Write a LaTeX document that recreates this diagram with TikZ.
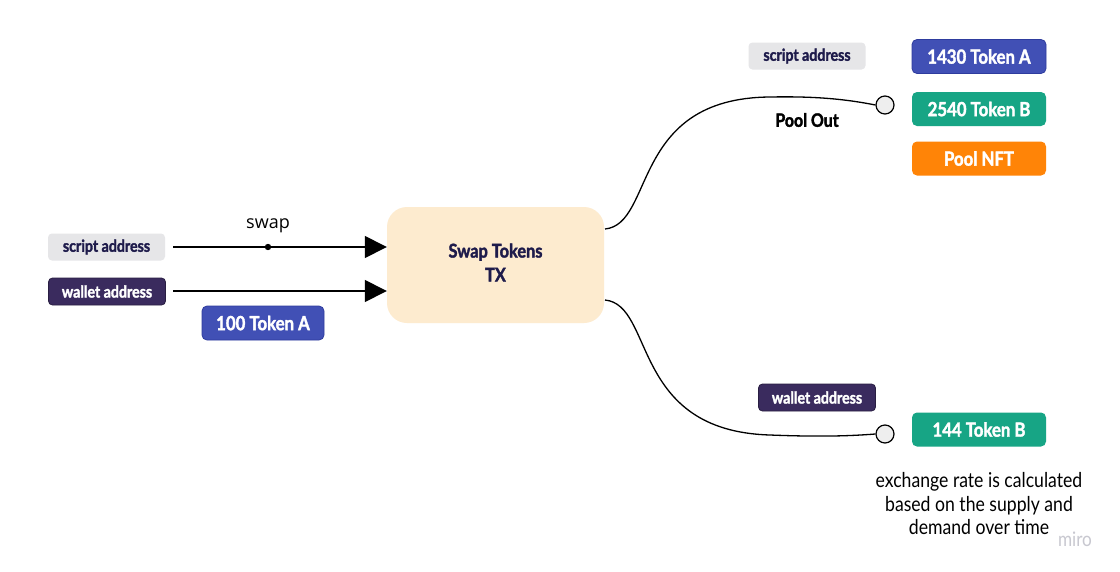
\documentclass[tikz,border=0pt]{standalone}
\usepackage{fontspec}
\setmainfont{Lato}
\newfontfamily\labelfont{Lato}[FakeStretch=0.86, BoldFeatures={FakeBold=1.8}]
\newfontfamily\swapfont{Open Sans}
\usetikzlibrary{arrows.meta}

\definecolor{navy}{HTML}{1E1B4B}
\definecolor{chipgrey}{HTML}{E6E6E8}
\definecolor{walletpurple}{HTML}{3A2B5E}
\definecolor{tokenblue}{HTML}{4150B5}
\definecolor{tokenblueedge}{HTML}{2E3C9E}
\definecolor{tokenteal}{HTML}{17A585}
\definecolor{nftorange}{HTML}{FF8407}
\definecolor{txtan}{HTML}{FDEBCF}
\definecolor{pinfill}{HTML}{EEEEEE}
\definecolor{watermark}{HTML}{C8C8D0}

\tikzset{
  chip/.style={rounded corners=4pt, inner sep=0pt, minimum width=117pt, minimum height=27pt,
    font=\labelfont\bfseries\fontsize{16.5}{19}\selectfont},
  scriptchip/.style={chip, fill=chipgrey, text=navy},
  walletchip/.style={chip, fill=walletpurple, draw=walletpurple!70!black, line width=0.8pt, text=white},
  token/.style={rounded corners=5pt, inner sep=0pt, minimum width=134pt, minimum height=34pt,
    text=white, font=\labelfont\bfseries\fontsize{19.5}{22}\selectfont},
  bluetoken/.style={token, fill=tokenblue, draw=tokenblueedge, line width=0.8pt},
  tealtoken/.style={token, fill=tokenteal},
  orangetoken/.style={token, fill=nftorange},
  txbox/.style={rounded corners=20pt, fill=txtan, inner sep=0pt, minimum width=217pt,
    minimum height=116pt, align=center, text=navy,
    font=\labelfont\bfseries\fontsize{19}{24}\selectfont},
  pin/.style={circle, draw=black, fill=pinfill, line width=1.2pt, minimum size=18pt, inner sep=0pt},
  input/.style={line width=1.5pt, -{Triangle[length=22pt,width=22pt]}},
  output/.style={line width=1.3pt},
}

\begin{document}
\begin{tikzpicture}[x=1pt, y=-1pt]
  \useasboundingbox[fill=white] (0,0) rectangle (1120,571);

  % inputs
  \node[scriptchip] (inscript) at (106.5,247) {script address};
  \node[walletchip] (inwallet) at (107,291.5) {wallet address};
  \node[bluetoken, minimum width=122pt] (inA) at (263,323) {100 Token A};

  % transaction box with its label set a little above centre
  \node[txbox] (tx) at (495.5,265) {};
  \node[text=navy, align=center, font=\labelfont\bfseries\fontsize{19}{24}\selectfont]
    (txlbl) at (495.5,262.5) {Swap Tokens\\TX};

  \coordinate (inscriptEnd) at (173,247);
  \coordinate (inwalletEnd) at (173,291);
  \draw[input] (inscriptEnd) -- (tx.west |- inscriptEnd);
  \draw[input] (inwalletEnd) -- (tx.west |- inwalletEnd);
  \fill (268,247) circle (3.2pt) coordinate (redeemer);
  \node[font=\swapfont\fontsize{18}{20}\selectfont] (swaplbl) at (268,226) {swap};

  % outputs
  \node[pin] (poolpin) at (885,105) {};
  \node[pin] (userpin) at (885,434) {};
  \coordinate (txtop) at (605,229);
  \coordinate (txbot) at (605,300);
  \draw[output] (txtop) .. controls (655,224) and (630,98) .. (770,97)
    .. controls (820,96) and (850,100) .. (poolpin.west);
  \draw[output] (txbot) .. controls (655,305) and (630,431) .. (770,435)
    .. controls (820,437) and (850,436) .. (userpin.west);
  \node[font=\labelfont\bfseries\fontsize{18.5}{20}\selectfont] (poollbl) at (807,120) {Pool Out};

  % pool output contents
  \node[scriptchip] (outscript) at (807,56) {script address};
  \node[bluetoken] (poolA) at (979,56.5) {1430 Token A};
  \node[tealtoken] (poolB) at (979,109) {2540 Token B};
  \node[orangetoken] (poolnft) at (979,158.5) {Pool NFT};

  % user output contents
  \node[walletchip] (outwallet) at (817,397.5) {wallet address};
  \node[tealtoken] (userB) at (979,429.5) {144 Token B};
  \node[align=center, font=\labelfont\fontsize{20.5}{23.5}\selectfont] (note) at (979,504)
    {exchange rate is calculated\\based on the supply and\\demand over time};

  \node[text=watermark, font=\labelfont\fontsize{20}{22}\selectfont] (brand) at (1075,539) {miro};
\end{tikzpicture}
\end{document}
